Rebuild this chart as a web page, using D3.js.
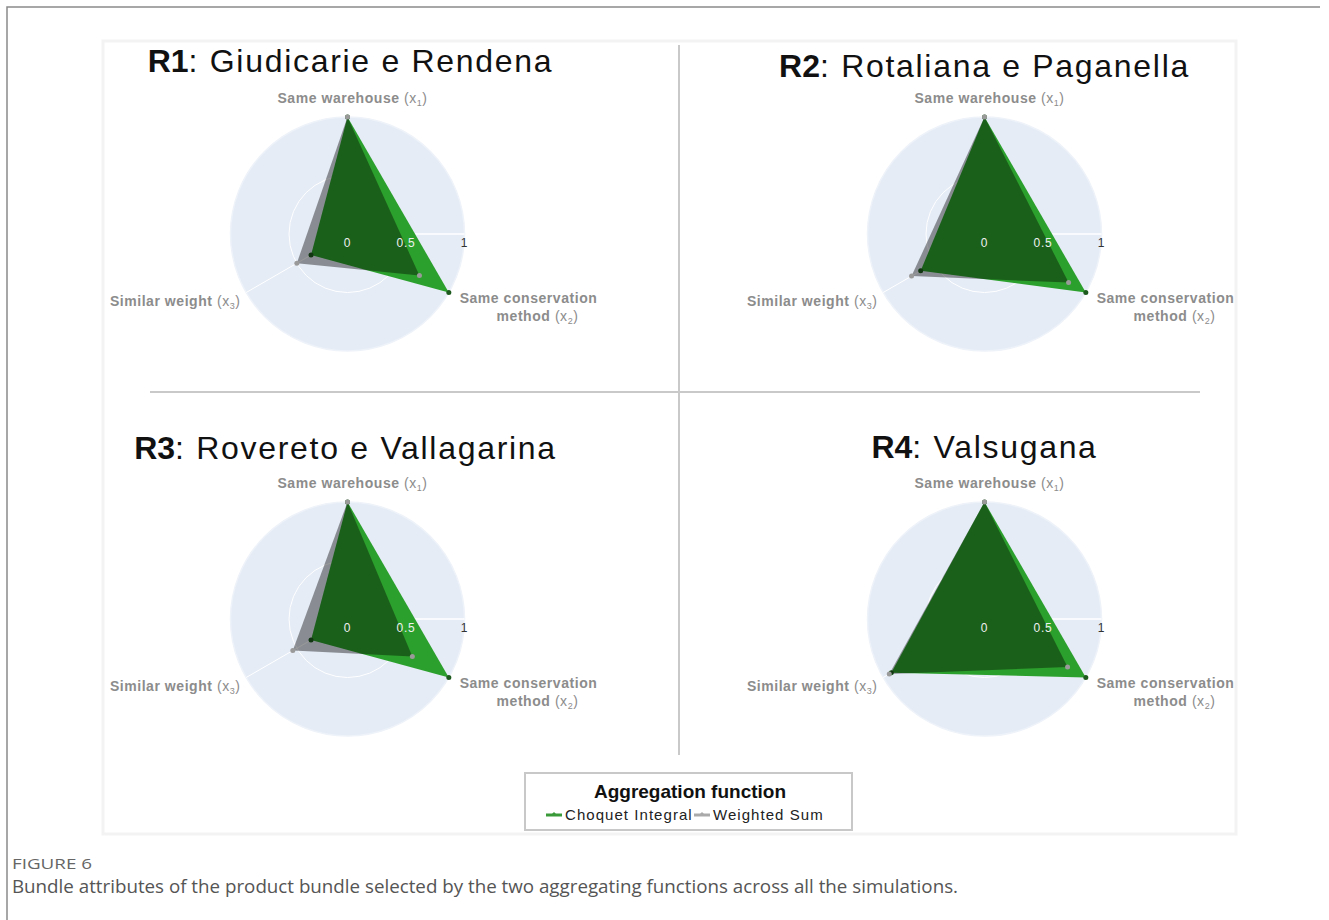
<!DOCTYPE html>
<html>
<head>
<meta charset="utf-8">
<script src="https://cdn.jsdelivr.net/npm/d3@7"></script>
<style>
  body { margin: 0; background: #fff; }
  svg { display: block; }
</style>
</head>
<body>
<div id="graph"></div>
<script>
// data
var regionCodes = ['R1', 'R2', 'R3', 'R4']
var regionNames = ['Giudicarie e Rendena', 'Rotaliana e Paganella', 'Rovereto e Vallagarina', 'Valsugana']
var attrNames = ['Same warehouse', 'Same conservation method', 'Similar weight']
var attrSubs = ['1', '2', '3']
var choquetVals = [
  [1, 1, 0.36],
  [1, 1, 0.63],
  [1, 1, 0.36],
  [1, 1, 0.92]
]
var weightedVals = [
  [1, 0.71, 0.50],
  [1, 0.83, 0.72],
  [1, 0.64, 0.54],
  [1, 0.82, 0.94]
]
var radialTicks = [0, 0.5, 1]
var seriesNames = ['Choquet Integral', 'Weighted Sum']

var W = 1329, H = 920
var font = '"Liberation Sans", Arial, sans-serif'
var svg = d3.select('#graph').append('svg').attr('width', W).attr('height', H)

// page frame (top + left)
svg.append('path')
  .attr('d', 'M7,920 L7,7 L1320,7')
  .attr('fill', 'none').attr('stroke', '#8a8a8a').attr('stroke-width', 1.5)

// figure panel
svg.append('rect')
  .attr('x', 103).attr('y', 41).attr('width', 1133).attr('height', 793)
  .attr('fill', '#fff').attr('stroke', '#f3f3f3').attr('stroke-width', 3)

// quadrant dividers
svg.append('line').attr('x1', 679).attr('x2', 679).attr('y1', 45).attr('y2', 755)
  .attr('stroke', '#c9c9c9').attr('stroke-width', 2)
svg.append('line').attr('x1', 150).attr('x2', 1200).attr('y1', 392).attr('y2', 392)
  .attr('stroke', '#c9c9c9').attr('stroke-width', 2)

var centers = [[347.5, 234], [984.5, 234], [347.5, 619], [984.5, 619]]
var titleDy = [-162, -157, -160, -161]
var titleDx = [3, 0, -2, 0]

var r = d3.scaleLinear().domain([0, 1]).range([0, 117])
var angle = d3.scaleLinear().domain([0, attrNames.length]).range([0, 2*Math.PI])

var radial = d3.lineRadial()
  .angle((d, i) => angle(i))
  .radius(d => r(d))
  .curve(d3.curveLinearClosed)

function pt(v, i){
  var a = angle(i)
  return [Math.sin(a)*r(v), -Math.cos(a)*r(v)]
}

var greenFill = '#2ca02c'
var greyFill = 'rgba(0,0,0,0.4)'

regionCodes.forEach(function(code, k){
  var g = svg.append('g').attr('transform', 'translate(' + centers[k] + ')')

  // title
  var t = g.append('text')
    .attr('x', titleDx[k]).attr('y', titleDy[k]).attr('text-anchor', 'middle')
    .style('font-family', font)
    .style('font-size', '32px').style('fill', '#111')
  t.append('tspan').text(code).style('font-weight', 'bold')
  t.append('tspan').text(':  ' + regionNames[k]).style('letter-spacing', '1.7px')

  // polar background
  g.append('circle').attr('r', r(1)).attr('fill', '#e5ecf6').attr('stroke', '#eef2f9').attr('stroke-width', 1.5)
  g.append('circle').attr('r', r(0.5)).attr('fill', 'none').attr('stroke', '#fff').attr('stroke-width', 1)
  g.selectAll('line.spoke').data(attrNames).join('line').attr('class', 'spoke')
    .attr('x2', (d, i) => pt(1, i)[0]).attr('y2', (d, i) => pt(1, i)[1])
    .attr('stroke', '#fff').attr('stroke-width', 1)

  // radial axis line
  g.append('line').attr('x1', r(0)).attr('x2', r(1)).attr('stroke', '#fff').attr('stroke-width', 1.5)

  // choquet trace
  g.append('path').attr('d', radial(choquetVals[k])).attr('fill', greenFill).attr('stroke', 'none')
  g.selectAll('circle.cq').data(choquetVals[k]).join('circle').attr('class', 'cq')
    .attr('cx', (d, i) => pt(d, i)[0]).attr('cy', (d, i) => pt(d, i)[1])
    .attr('r', 2.5).attr('fill', '#1d5a1d')

  // weighted sum trace on top
  g.append('path').attr('d', radial(weightedVals[k])).attr('fill', greyFill).attr('stroke', 'none')
  g.selectAll('circle.ws').data(weightedVals[k]).join('circle').attr('class', 'ws')
    .attr('cx', (d, i) => pt(d, i)[0]).attr('cy', (d, i) => pt(d, i)[1])
    .attr('r', 2.5).attr('fill', '#9a9a9a')

  // radial tick labels
  g.selectAll('text.tick').data(radialTicks).join('text').attr('class', 'tick')
    .attr('x', d => r(d)).attr('y', 13).attr('text-anchor', 'middle')
    .style('font-family', font).style('font-size', '12px')
    .style('letter-spacing', '0.8px')
    .style('fill', d => d < 1 ? '#eef0f0' : '#333')
    .text(d => d)

  // angular labels
  var lab = g.append('g')
    .style('font-family', font).style('font-size', '14px')
    .style('fill', '#8c8c8c').style('letter-spacing', '0.55px')

  function addLabel(x, y, anchor, bold, sub){
    var tx = lab.append('text').attr('x', x).attr('y', y).attr('text-anchor', anchor)
    tx.append('tspan').text(bold + ' ').style('font-weight', 'bold')
    tx.append('tspan').text('(x').style('font-weight', 'normal')
    tx.append('tspan').text(sub).attr('dy', 3).style('font-size', '9px')
    tx.append('tspan').text(')').attr('dy', -3)
  }
  addLabel(5, -131, 'middle', 'Same warehouse', attrSubs[0])
  lab.append('text').attr('x', 181).attr('y', 69).attr('text-anchor', 'middle')
    .style('font-weight', 'bold').text('Same conservation')
  addLabel(190, 87, 'middle', 'method', attrSubs[1])
  addLabel(-107, 72, 'end', 'Similar weight', attrSubs[2])
})

// legend
var leg = svg.append('g').attr('transform', 'translate(525,773)')
leg.append('rect').attr('width', 327).attr('height', 57)
  .attr('fill', '#fff').attr('stroke', '#c8c8c8').attr('stroke-width', 2)
leg.append('text').attr('x', 165).attr('y', 25).attr('text-anchor', 'middle')
  .style('font-family', font).style('font-size', '19px')
  .style('font-weight', 'bold').style('fill', '#111').text('Aggregation function')

var legItems = [
  {name: seriesNames[0], color: '#3a9a3a', x: 21},
  {name: seriesNames[1], color: '#aaaaaa', x: 169}
]
var li = leg.selectAll('g.item').data(legItems).join('g').attr('class', 'item')
  .attr('transform', d => 'translate(' + d.x + ',42)')
li.append('line').attr('x1', 0).attr('x2', 16).attr('stroke', d => d.color).attr('stroke-width', 3)
li.append('path').attr('d', 'M5,0 L8,-3 L11,0 Z').attr('fill', d => d.color)
li.append('text').attr('x', 19).attr('y', 5)
  .style('font-family', font).style('font-size', '15px')
  .style('letter-spacing', '1.05px').style('fill', '#222')
  .text(d => d.name)

// caption
svg.append('text').attr('x', 12).attr('y', 869)
  .attr('textLength', 80).attr('lengthAdjust', 'spacingAndGlyphs')
  .style('font-family', 'Open Sans, sans-serif').style('font-size', '14px').style('fill', '#666')
  .text('FIGURE 6')
svg.append('text').attr('x', 12).attr('y', 893)
  .attr('textLength', 946).attr('lengthAdjust', 'spacingAndGlyphs')
  .style('font-family', 'Open Sans, sans-serif').style('font-size', '18px').style('fill', '#555')
  .text('Bundle attributes of the product bundle selected by the two aggregating functions across all the simulations.')
</script>
</body>
</html>
